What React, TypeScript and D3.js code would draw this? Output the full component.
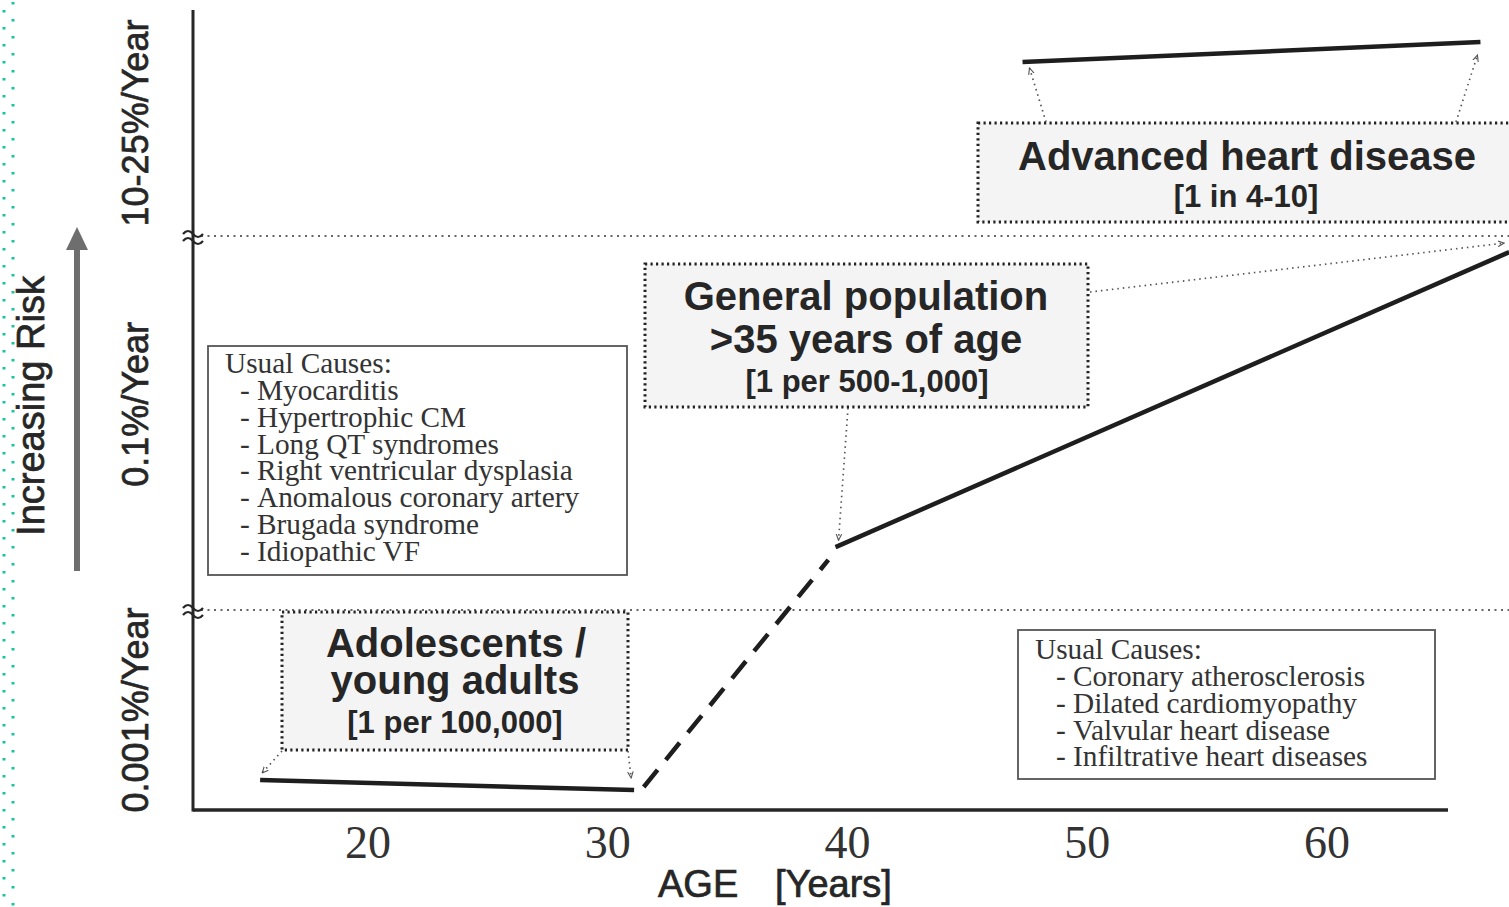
import React from "react";
import * as d3 from "d3";

// ---- data (age in years, risk in "band units": 0-1 = 0.001%/yr band, 1-2 = 0.1%/yr band, 2-3 = 10-25%/yr band)
const youngAge = [15.5, 31.1];
const youngRisk = [0.15, 0.1];
const transitionAge = [31.5, 39.2];
const transitionRisk = [0.115, 1.134];
const generalAge = [39.5, 67.6];
const generalRisk = [1.168, 1.957];
const advancedAge = [47.3, 66.4];
const advancedRisk = [2.77, 2.858];

const xTicks = [20, 30, 40, 50, 60];
const yBandLabels = ["0.001%/Year", "0.1%/Year", "10-25%/Year"];
const yBandCenters = [0.5, 1.55, 2.5];
const yBreaks = [1, 2];

const youngCauses = [
  "Myocarditis",
  "Hypertrophic CM",
  "Long QT syndromes",
  "Right ventricular dysplasia",
  "Anomalous coronary artery",
  "Brugada syndrome",
  "Idiopathic VF",
];
const olderCauses = [
  "Coronary atherosclerosis",
  "Dilated cardiomyopathy",
  "Valvular heart disease",
  "Infiltrative heart diseases",
];

const SANS = "'Liberation Sans', Arial, Helvetica, sans-serif";
const SERIF = "'Liberation Serif', 'Times New Roman', serif";
const INK = "#262626";

export default function App() {
  const W = 1509;
  const H = 907;
  const x = d3.scaleLinear().domain([20, 60]).range([368, 1327]);
  const y = d3.scaleLinear().domain([0, 1, 2, 3]).range([810, 610, 236, 10]);
  const axisX = 193;
  const axisY = y(0);
  const xEnd = 1448;

  const line = d3
    .line<[number, number]>()
    .x((d) => x(d[0]))
    .y((d) => y(d[1]));
  const pts = (a: number[], r: number[]) => a.map((v, i) => [v, r[i]] as [number, number]);

  const boxDots = { fill: "#f4f4f4", stroke: "#222", strokeWidth: 3, strokeDasharray: "2.2 3.3" };
  const connector = { stroke: "#555", strokeWidth: 1.7, strokeDasharray: "1.5 4", fill: "none" };
  const heavy = { stroke: INK, strokeWidth: 0.7 };

  const ys = youngAge.map((a, i) => [x(a), y(youngRisk[i])]);
  const gs = generalAge.map((a, i) => [x(a), y(generalRisk[i])]);
  const as = advancedAge.map((a, i) => [x(a), y(advancedRisk[i])]);

  const conn = (x1: number, y1: number, x2: number, y2: number, key: string) => (
    <line key={key} x1={x1} y1={y1} x2={x2} y2={y2} {...connector} markerEnd="url(#tip)" />
  );

  const serifSize = 29.3;

  return (
    <svg
      width={W}
      height={H}
      style={{ position: "absolute", left: 0, top: 0, background: "#fff" }}
      xmlns="http://www.w3.org/2000/svg"
    >
      <defs>
        <marker id="tip" viewBox="0 0 10 10" refX="9" refY="5" markerWidth="7" markerHeight="7" orient="auto" markerUnits="userSpaceOnUse">
          <path d="M0,1 L9,5 L0,9" fill="none" stroke="#555" strokeWidth="1.6" />
        </marker>
      </defs>

      {/* left page dotted border */}
      <line x1={4} y1={0} x2={4} y2={H} stroke="#19c4a0" strokeWidth={3} strokeDasharray="2.5 14.5" strokeDashoffset={-10} />
      <line x1={13} y1={0} x2={13} y2={H} stroke="#19c4a0" strokeWidth={3} strokeDasharray="2.5 14.5" strokeDashoffset={-2} />

      {/* break guide lines */}
      {yBreaks.map((b) => (
        <line key={"g" + b} x1={axisX + 8} y1={y(b)} x2={W} y2={y(b)} stroke="#666" strokeWidth={2} strokeDasharray="2 4.5" />
      ))}

      {/* axes */}
      <line x1={axisX} y1={10} x2={axisX} y2={axisY + 1.5} stroke={INK} strokeWidth={3} />
      <line x1={axisX} y1={axisY} x2={xEnd} y2={axisY} stroke={INK} strokeWidth={3.5} />
      {yBreaks.map((b) => {
        const by = y(b);
        return (
          <g key={"b" + b} stroke={INK} strokeWidth={2.2} fill="none">
            <path d={`M${axisX - 10},${by - 2} q5,-6 10,0 t10,0`} />
            <path d={`M${axisX - 10},${by + 5} q5,-6 10,0 t10,0`} />
          </g>
        );
      })}

      {/* x tick labels */}
      {xTicks.map((t) => (
        <text key={t} x={x(t)} y={858} textAnchor="middle" fontFamily={SERIF} fontSize={46} fill="#333">
          {t}
        </text>
      ))}
      <text x={658} y={897} fontFamily={SANS} fontSize={38} fill={INK} {...heavy}>AGE</text>
      <text x={775} y={897} fontFamily={SANS} fontSize={38} fill={INK} {...heavy}>[Years]</text>

      {/* y band labels */}
      {yBandLabels.map((l, i) => {
        const cy = y(yBandCenters[i]);
        return (
          <text key={l} x={148} y={cy} transform={`rotate(-90,148,${cy})`} textAnchor="middle" fontFamily={SANS} fontSize={36} fill={INK} {...heavy}>
            {l}
          </text>
        );
      })}
      <text x={44} y={406} transform="rotate(-90,44,406)" textAnchor="middle" fontFamily={SANS} fontSize={38} fill={INK} {...heavy}>
        Increasing Risk
      </text>
      <line x1={77} y1={571} x2={77} y2={246} stroke="#6e6e6e" strokeWidth={6} />
      <path d="M77,227 L66,250 L88,250 Z" fill="#6e6e6e" />

      {/* risk lines */}
      <path d={line(pts(youngAge, youngRisk)) || ""} stroke="#1e1e1e" strokeWidth={4.5} fill="none" />
      <path d={line(pts(transitionAge, transitionRisk)) || ""} stroke="#1e1e1e" strokeWidth={4.5} fill="none" strokeDasharray="22 13" />
      <path d={line(pts(generalAge, generalRisk)) || ""} stroke="#1e1e1e" strokeWidth={4.5} fill="none" />
      <path d={line(pts(advancedAge, advancedRisk)) || ""} stroke="#1e1e1e" strokeWidth={4.5} fill="none" />

      {/* young causes box */}
      <rect x={208} y={346} width={419} height={229} fill="#fff" stroke="#555" strokeWidth={1.8} />
      <text x={225} y={373} fontFamily={SERIF} fontSize={serifSize} fill="#333">Usual Causes:</text>
      {youngCauses.map((c, i) => (
        <g key={c}>
          <text x={240} y={400 + i * 26.8} fontFamily={SERIF} fontSize={serifSize} fill="#333">-</text>
          <text x={257} y={400 + i * 26.8} fontFamily={SERIF} fontSize={serifSize} fill="#333">{c}</text>
        </g>
      ))}

      {/* older causes box */}
      <rect x={1018} y={630} width={417} height={149} fill="#fff" stroke="#555" strokeWidth={1.8} />
      <text x={1035} y={659} fontFamily={SERIF} fontSize={serifSize} fill="#333">Usual Causes:</text>
      {olderCauses.map((c, i) => (
        <g key={c}>
          <text x={1056} y={686 + i * 26.8} fontFamily={SERIF} fontSize={serifSize} fill="#333">-</text>
          <text x={1073} y={686 + i * 26.8} fontFamily={SERIF} fontSize={serifSize} fill="#333">{c}</text>
        </g>
      ))}

      {/* Adolescents box */}
      <rect x={282} y={612} width={346} height={138} {...boxDots} />
      <text x={456} y={657} textAnchor="middle" fontFamily={SANS} fontWeight="bold" fontSize={40} fill={INK}>Adolescents /</text>
      <text x={455} y={694} textAnchor="middle" fontFamily={SANS} fontWeight="bold" fontSize={40} fill={INK}>young adults</text>
      <text x={455} y={733} textAnchor="middle" fontFamily={SANS} fontWeight="bold" fontSize={31} fill={INK}>[1 per 100,000]</text>
      {conn(282, 751, ys[0][0] + 2, ys[0][1] - 7, "c1")}
      {conn(628, 751, ys[1][0] - 3, ys[1][1] - 12, "c2")}

      {/* General population box */}
      <rect x={645} y={264} width={443} height={143} {...boxDots} />
      <text x={866} y={310} textAnchor="middle" fontFamily={SANS} fontWeight="bold" fontSize={40} fill={INK}>General population</text>
      <text x={866} y={353} textAnchor="middle" fontFamily={SANS} fontWeight="bold" fontSize={40} fill={INK}>&gt;35 years of age</text>
      <text x={867} y={392} textAnchor="middle" fontFamily={SANS} fontWeight="bold" fontSize={31} fill={INK}>[1 per 500-1,000]</text>
      {conn(848, 408, gs[0][0] + 3, gs[0][1] - 7, "c3")}
      {conn(1090, 292, gs[1][0] - 5, gs[1][1] - 9, "c4")}

      {/* Advanced heart disease box */}
      <rect x={978} y={123} width={545} height={99} {...boxDots} />
      <text x={1247} y={170} textAnchor="middle" fontFamily={SANS} fontWeight="bold" fontSize={40} fill={INK}>Advanced heart disease</text>
      <text x={1246} y={207} textAnchor="middle" fontFamily={SANS} fontWeight="bold" fontSize={31} fill={INK}>[1 in 4-10]</text>
      {conn(1046, 122, as[0][0] + 7, as[0][1] + 6, "c5")}
      {conn(1456, 122, as[1][0] - 3, as[1][1] + 13, "c6")}
    </svg>
  );
}
